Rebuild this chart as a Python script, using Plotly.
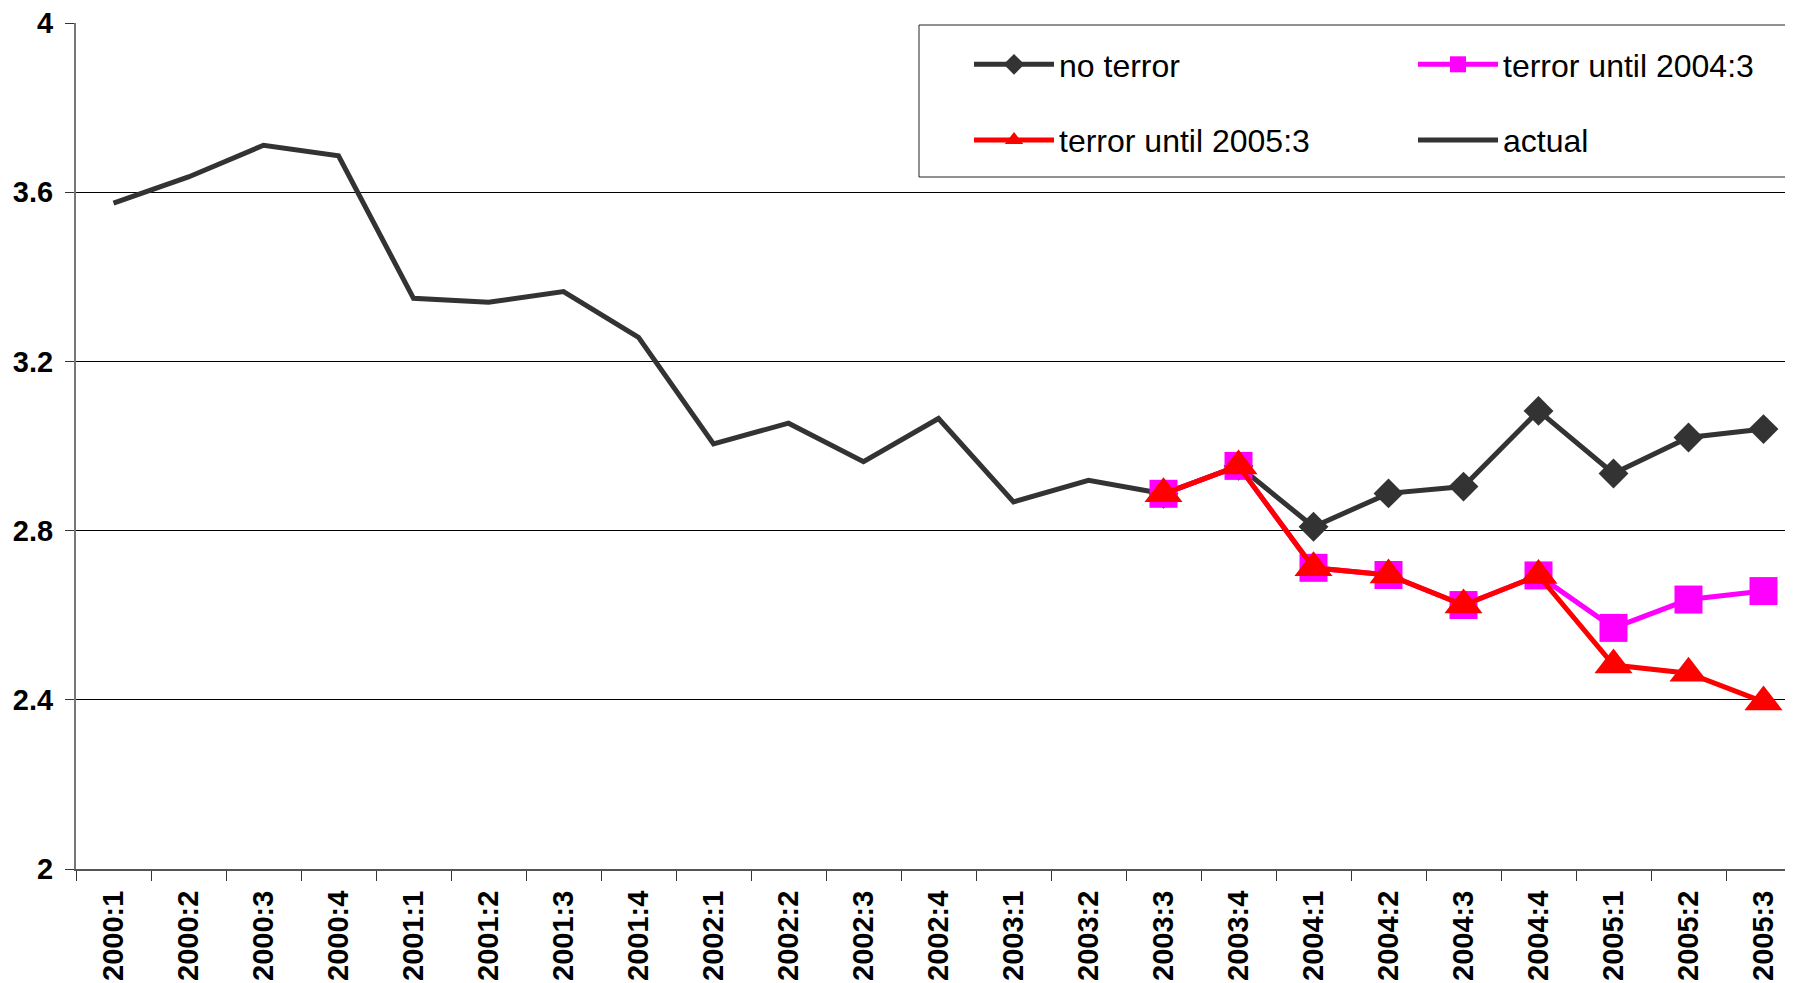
import plotly.graph_objects as go

QUARTERS = [
    "2000:1", "2000:2", "2000:3", "2000:4",
    "2001:1", "2001:2", "2001:3", "2001:4",
    "2002:1", "2002:2", "2002:3", "2002:4",
    "2003:1", "2003:2", "2003:3", "2003:4",
    "2004:1", "2004:2", "2004:3", "2004:4",
    "2005:1", "2005:2", "2005:3",
]
ACTUAL = [3.574, 3.636, 3.711, 3.686, 3.349, 3.340, 3.365, 3.257,
          3.005, 3.054, 2.963, 3.065, 2.868, 2.919, 2.887] + [None] * 8
NO_TERROR = [None] * 14 + [2.887, 2.953, 2.809, 2.888, 2.904, 3.083, 2.935, 3.020, 3.040]
TERROR_2004 = [None] * 14 + [2.887, 2.953, 2.712, 2.695, 2.624, 2.694, 2.570, 2.637, 2.657]
TERROR_2005 = [None] * 14 + [2.887, 2.953, 2.712, 2.695, 2.624, 2.694, 2.482, 2.463, 2.395]
Y_TICKS = [2, 2.4, 2.8, 3.2, 3.6, 4]

DARK = "#333333"
MAGENTA = "#ff00ff"
RED = "#ff0000"
FONT = "Liberation Sans, Arial, sans-serif"

# the page body adds an 8px offset, so the figure is a bit smaller than the window
OFF = 8
W, H = 1793 - OFF, 983 - OFF
M = {"l": 76 - OFF, "r": 0, "t": 23 - OFF, "b": 114}
PW = W - M["l"] - M["r"]
PH = H - M["t"] - M["b"]
CAT_W = 75  # px per quarter


def px_x(x):
    # x in window pixels -> paper fraction
    return (x - OFF - M["l"]) / PW


def px_y(y):
    return 1 - (y - OFF - M["t"]) / PH


fig = go.Figure()
fig.add_trace(go.Scatter(
    x=QUARTERS, y=ACTUAL, name="actual", mode="lines",
    line={"color": DARK, "width": 5}, legend="legend2", legendgroup="a", legendrank=2,
))
fig.add_trace(go.Scatter(
    x=QUARTERS, y=NO_TERROR, name="no terror", mode="lines+markers",
    line={"color": DARK, "width": 5}, marker={"symbol": "diamond", "size": 23, "color": DARK},
    legend="legend", legendgroup="b", legendrank=1,
))
fig.add_trace(go.Scatter(
    x=QUARTERS, y=TERROR_2004, name="terror until 2004:3", mode="lines+markers",
    line={"color": MAGENTA, "width": 5}, marker={"symbol": "square", "size": 28, "color": MAGENTA},
    legend="legend2", legendgroup="c", legendrank=1,
))
fig.add_trace(go.Scatter(
    x=QUARTERS, y=TERROR_2005, name="terror until 2005:3", mode="lines+markers",
    line={"color": RED, "width": 5}, marker={"symbol": "triangle-up", "size": 33, "color": RED},
    legend="legend", legendgroup="d", legendrank=2,
))

legend_common = dict(
    orientation="v", xanchor="left", yanchor="top", y=px_y(37),
    bgcolor="rgba(0,0,0,0)", borderwidth=0, itemwidth=80, tracegroupgap=31,
    font={"family": FONT, "size": 32, "color": "black"},
)

fig.update_layout(
    width=W, height=H, margin=M,
    paper_bgcolor="white", plot_bgcolor="white",
    font={"family": FONT, "color": "black"},
    showlegend=True,
    legend=dict(x=px_x(969), **legend_common),
    legend2=dict(x=px_x(1413), **legend_common),
    shapes=[dict(
        type="rect", xref="paper", yref="paper",
        x0=px_x(919), x1=1.01, y0=px_y(177), y1=px_y(25),
        line={"color": "#222222", "width": 1}, fillcolor="white", layer="below",
    )],
    xaxis=dict(
        type="category", categoryorder="array", categoryarray=QUARTERS,
        range=[-0.5, -0.5 + PW / CAT_W],
        tickson="boundaries", ticks="outside", ticklen=10, tickcolor="#333333",
        tickangle=-90, ticklabelstandoff=8, ticklabeloverflow="allow",
        tickfont={"family": FONT, "size": 29, "weight": "bold", "color": "black"},
        showline=True, linecolor="#555555", linewidth=2,
        showgrid=False, zeroline=False,
    ),
    yaxis=dict(
        range=[2, 4], tickvals=Y_TICKS, ticks="outside", ticklen=9, tickcolor="#333333",
        ticklabelstandoff=6, ticklabeloverflow="allow",
        tickfont={"family": FONT, "size": 29, "weight": "bold", "color": "black"},
        showline=True, linecolor="#777777", linewidth=2,
        showgrid=True, gridcolor="black", gridwidth=1, zeroline=False,
    ),
)

fig.write_html("out.html")
